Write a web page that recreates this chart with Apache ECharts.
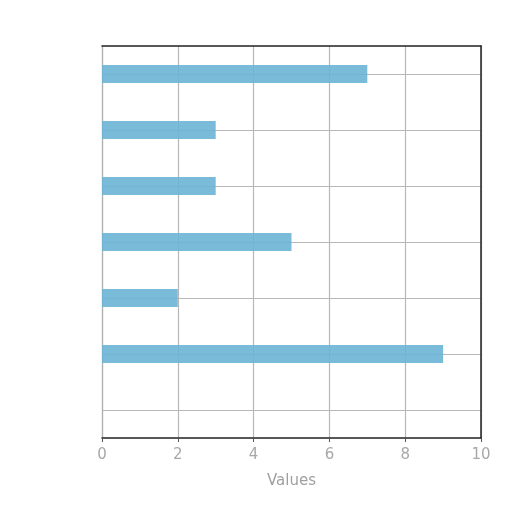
<!DOCTYPE html>
<html>
<head>
<meta charset="utf-8">
<script src="https://cdn.jsdelivr.net/npm/echarts@6/dist/echarts.min.js"></script>
<style>html,body{margin:0;padding:0;background:#fff;}#c{width:512px;height:512px;}</style>
</head>
<body>
<div id="c"></div>
<script>
var categories = ['A', 'B', 'C', 'D', 'E', 'F', 'G'];
var values = [7, 3, 3, 5, 2, 9, 0];
var xTicks = [0, 2, 4, 6, 8, 10];

var chart = echarts.init(document.getElementById('c'));
chart.setOption({
  animation: false,
  backgroundColor: '#ffffff',
  grid: { left: 102, right: 31, top: 46, bottom: 74, containLabel: false },
  xAxis: [{
    type: 'value', min: xTicks[0], max: xTicks[xTicks.length - 1], interval: 2,
    name: 'Values', nameLocation: 'middle', nameGap: 36,
    nameTextStyle: { color: '#a0a0a0', fontSize: 15, fontFamily: 'DejaVu Sans' },
    axisLine: { show: true, onZero: false, lineStyle: { color: '#222', width: 1.5 } },
    axisTick: { show: true, length: 4, lineStyle: { color: '#555' } },
    axisLabel: { color: '#a8a8a8', fontSize: 15, margin: 10, fontFamily: 'DejaVu Sans' },
    splitLine: { show: true, lineStyle: { color: '#b8b8b8', width: 1.2 } }
  }, {
    type: 'value', position: 'top', min: xTicks[0], max: xTicks[xTicks.length - 1], interval: 2,
    axisLine: { show: true, onZero: false, lineStyle: { color: '#222', width: 1.5 } },
    axisTick: { show: false }, axisLabel: { show: false }, splitLine: { show: false }
  }],
  yAxis: [{
    type: 'category', data: categories, inverse: true, position: 'left',
    axisLine: { show: true, onZero: false, lineStyle: { color: '#b0b0b0', width: 1.2 } },
    axisTick: { show: false }, axisLabel: { show: false }, splitLine: { show: false }
  }, {
    type: 'category', data: categories, inverse: true, position: 'right',
    axisLine: { show: true, onZero: false, lineStyle: { color: '#222', width: 1.5 } },
    axisTick: { show: false }, axisLabel: { show: false }, splitLine: { show: false }
  }],
  series: [{
    type: 'line', data: [], xAxisIndex: 0, yAxisIndex: 0, z: 0,
    markLine: {
      z: 0, silent: true, symbol: 'none', label: { show: false },
      lineStyle: { color: '#b8b8b8', width: 1.2, type: 'solid' },
      data: categories.map(function (c) { return { yAxis: c }; })
    }
  }, {
    type: 'bar', data: values, xAxisIndex: 0, yAxisIndex: 0, z: 3,
    barWidth: 18,
    itemStyle: { color: 'rgba(108,180,214,0.9)' }
  }]
});
</script>
</body>
</html>
